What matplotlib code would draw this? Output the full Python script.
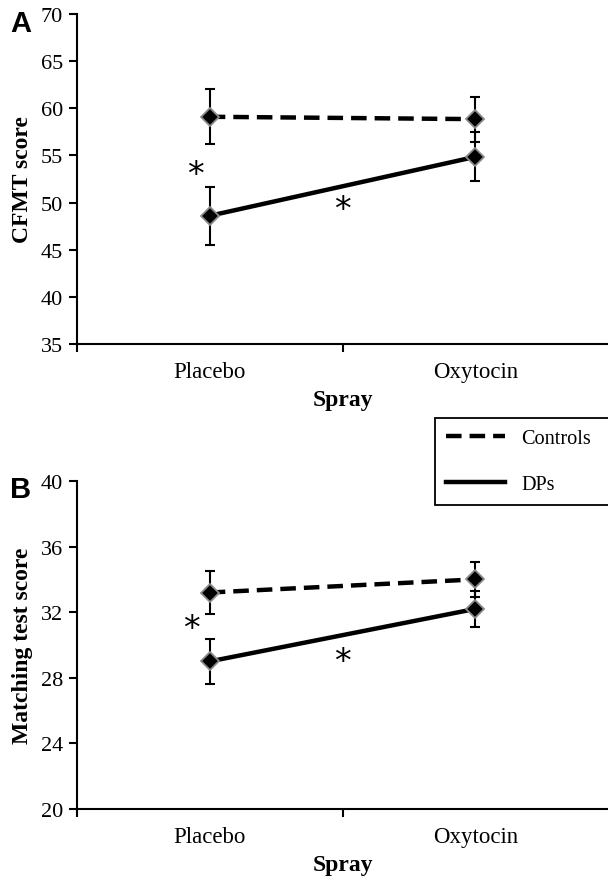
import matplotlib.pyplot as plt
from matplotlib.lines import Line2D

# data
sprays = ['Placebo', 'Oxytocin']

cfmt_controls = [59.1, 58.85]
cfmt_controls_err = [2.9, 2.4]
cfmt_dps = [48.6, 54.85]
cfmt_dps_err = [3.1, 2.6]

match_controls = [33.2, 34.0]
match_controls_err = [1.3, 1.05]
match_dps = [29.0, 32.2]
match_dps_err = [1.35, 1.1]

plt.rcParams['font.family'] = 'Liberation Serif'
plt.rcParams['font.size'] = 16

fig = plt.figure(figsize=(6.08, 8.79), dpi=100)
axA = fig.add_axes([77 / 608, 1 - 345 / 879, 1 - 77 / 608, 330 / 879])
axB = fig.add_axes([77 / 608, 1 - 810 / 879, 1 - 77 / 608, 328 / 879])

x = [1, 2]


def draw_series(ax, vals, errs, ls):
    ax.errorbar(x, vals, yerr=errs, fmt='none', ecolor='black', elinewidth=1.5,
                capsize=3.8, capthick=1.5, zorder=2)
    ax.plot(x, vals, color='black', lw=3.2, ls=ls, zorder=3,
            dashes=(3.5, 1.8) if ls == '--' else (None, None))
    ax.plot(x, vals, ls='none', marker='D', ms=9, mfc='black', mec='#8a8a8a',
            mew=1.3, zorder=4)


def style_axes(ax, ylim, yticks, ylabel):
    ax.set_xlim(0.5, 2.5)
    ax.set_ylim(*ylim)
    ax.set_yticks(yticks)
    # category separators as major ticks, labels on minor ticks
    ax.set_xticks([0.5, 1.5])
    ax.set_xticklabels([])
    ax.set_xticks(x, minor=True)
    ax.set_xticklabels(sprays, minor=True)
    ax.tick_params(axis='x', which='minor', length=0, pad=12, labelsize=16.5)
    ax.tick_params(axis='x', which='major', length=6, width=1.5, direction='out')
    ax.tick_params(axis='y', length=6, width=1.5, direction='out', pad=4, labelsize=16)
    for s in ['top', 'right']:
        ax.spines[s].set_visible(False)
    for s in ['left', 'bottom']:
        ax.spines[s].set_linewidth(1.5)
    ax.set_ylabel(ylabel, fontsize=17, fontweight='bold', labelpad=6)
    ax.set_xlabel('Spray', fontsize=17, fontweight='bold', labelpad=5)


draw_series(axA, cfmt_controls, cfmt_controls_err, '--')
draw_series(axA, cfmt_dps, cfmt_dps_err, '-')
style_axes(axA, (35, 70), range(35, 71, 5), 'CFMT score')
axA.text(0.947, 53.0, '*', ha='center', va='center', fontsize=24, family='DejaVu Sans')
axA.text(1.5, 49.25, '*', ha='center', va='center', fontsize=24, family='DejaVu Sans')

draw_series(axB, match_controls, match_controls_err, '--')
draw_series(axB, match_dps, match_dps_err, '-')
style_axes(axB, (20, 40), range(20, 41, 4), 'Matching test score')
axB.text(0.931, 31.0, '*', ha='center', va='center', fontsize=24, family='DejaVu Sans')
axB.text(1.5, 29.0, '*', ha='center', va='center', fontsize=24, family='DejaVu Sans')

fig.text(10 / 608, 1 - 24 / 879, 'A', fontsize=21, fontweight='bold',
         family='Liberation Sans', ha='left', va='center')
fig.text(10 / 608, 1 - 490 / 879, 'B', fontsize=21, fontweight='bold',
         family='Liberation Sans', ha='left', va='center')

handles = [Line2D([], [], color='black', lw=3.2, ls='--', dashes=(3.5, 1.8)),
           Line2D([], [], color='black', lw=3.2)]
leg = fig.legend(handles, ['Controls', 'DPs'], loc='lower left',
                 bbox_to_anchor=(435 / 608, 1 - 506 / 879, 0.3, 91 / 879),
                 mode='expand', borderaxespad=0, fancybox=False,
                 edgecolor='black', framealpha=1, fontsize=14.6,
                 handlelength=2.9, handletextpad=0.8, labelspacing=1.3,
                 borderpad=0.55)
leg.get_frame().set_linewidth(1.3)

fig.savefig('out.png', dpi=100)
